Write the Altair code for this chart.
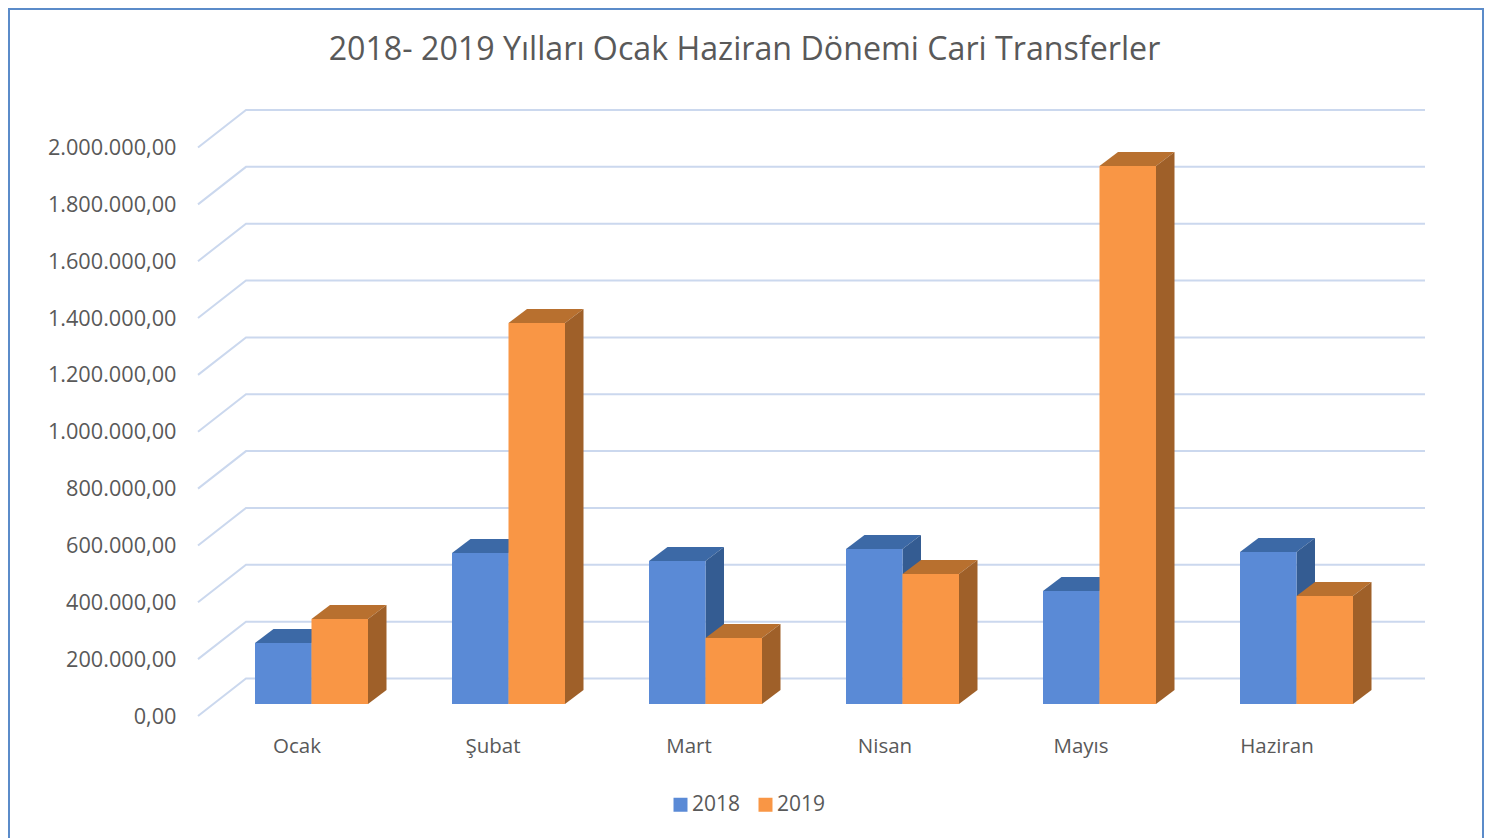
import altair as alt
import pandas as pd

months = ["Ocak", "Şubat", "Mart", "Nisan", "Mayıs", "Haziran"]
values_2018 = [214600, 531000, 503000, 545000, 397500, 535000]
values_2019 = [299000, 1340000, 232000, 457000, 1893000, 380000]
years = ["2018", "2019"]
front_colors = ["#5A8AD6", "#F99645"]
top_colors = ["#3C69A6", "#B8702F"]
side_colors = ["#345C92", "#9F6029"]
ticks = [0, 200000, 400000, 600000, 800000, 1000000, 1200000, 1400000, 1600000, 1800000, 2000000]
title_text = "2018- 2019 Yılları Ocak Haziran Dönemi Cari Transferler"

FONT = "Open Sans"
TEXT = "#595959"
GRID = "#CBD8EE"
BORDER = "#5B8BC9"

# layout of the pseudo-3D projection (screen units per data unit)
W, H = 1227, 606
PX_X = 197.0                 # pixels per category
PX_Y = 56.85 / 200000        # pixels per currency unit
bar_w = 56.5 / PX_X
depth_x, depth_y = 18.5 / PX_X, 14 / PX_Y
wall_x, wall_y = 48 / PX_X, 37.5 / PX_Y
base = 12 / PX_Y
x_min, x_max = -113.5 / PX_X, 1113.5 / PX_X
y_top = H / PX_Y
label_step = 196.0 / 197.0
x_scale = alt.Scale(domain=[x_min, x_max], nice=False, zero=False)
y_scale = alt.Scale(domain=[0, y_top], nice=False, zero=False)

AX = alt.Axis(
    values=[i * label_step for i in range(len(months))],
    labelExpr="%s[round(datum.value * 197 / 196)]" % str(months),
    grid=False, domain=False, ticks=False, labelFont=FONT, labelFontSize=20.5,
    labelColor=TEXT, labelPadding=20, labelOffset=-15, labelOverlap=False, labelFlush=False, title=None)
AY = alt.Axis(
    values=ticks,
    labelExpr="replace(format(datum.value, ',.0f'), regexp(',', 'g'), '.') + ',00'",
    grid=False, domain=False, ticks=False, labelFont=FONT, labelFontSize=21.7,
    labelColor=TEXT, labelPadding=22, labelOverlap=False, labelFlush=False, title=None)


def parts(series, vals):
    front, top, side = [], [], []
    off = series - 1
    for i, v in enumerate(vals):
        l = i + off * bar_w
        r = l + bar_w
        t = v + base
        front.append(dict(year=years[series], x=l, x2=r, y=base, y2=t))
        top += [dict(k=i, y=t, x=l, x2=r), dict(k=i, y=t + depth_y, x=l + depth_x, x2=r + depth_x)]
        side += [dict(k=i, x=r, y=base, y2=t), dict(k=i, x=r + depth_x, y=base + depth_y, y2=t + depth_y)]
    return pd.DataFrame(front), pd.DataFrame(top), pd.DataFrame(side)


X = lambda f="x": alt.X(f"{f}:Q", scale=x_scale, axis=AX)
Y = lambda f="y": alt.Y(f"{f}:Q", scale=y_scale, axis=AY)

grid_rows = []
for v in ticks:
    grid_rows += [dict(level=v, o=0, x=x_min, y=v),
                  dict(level=v, o=1, x=x_min + wall_x, y=v + wall_y),
                  dict(level=v, o=2, x=x_max, y=v + wall_y)]
grid = alt.Chart(pd.DataFrame(grid_rows)).mark_line(color=GRID, strokeWidth=2).encode(
    x=X(), y=Y(), detail="level:N", order="o:Q")

color = alt.Color("year:N", scale=alt.Scale(domain=years, range=front_colors), legend=alt.Legend(
    orient="none", legendX=472, legendY=684, direction="horizontal", title=None,
    symbolType="square", symbolSize=196, symbolStrokeWidth=0, symbolOpacity=1,
    labelFont=FONT, labelFontSize=21, labelColor=TEXT, columnPadding=14, labelOffset=1))

layers = [grid]
for s, vals in enumerate([values_2018, values_2019]):
    f, t, d = parts(s, vals)
    layers.append(alt.Chart(t).mark_area(orient="horizontal", color=top_colors[s]).encode(
        y=Y(), x=X(), x2="x2:Q", detail="k:N"))
    layers.append(alt.Chart(d).mark_area(color=side_colors[s]).encode(
        x=X(), y=Y(), y2="y2:Q", detail="k:N"))
    layers.append(alt.Chart(f).mark_rect().encode(
        x=X(), x2="x2:Q", y=Y(), y2="y2:Q", color=color))

frame_df = pd.DataFrame({"a": [0]})
def rule(**kw):
    return alt.Chart(frame_df).mark_rule(color=BORDER, strokeWidth=2).encode(
        **{k: alt.value(v) for k, v in kw.items()})
layers += [rule(x=-189, y=-102, y2=728),
           rule(x=1285, y=-102, y2=728),
           rule(x=-190, x2=1286, y=-101)]

chart = alt.layer(*layers).resolve_scale(x="shared", y="shared").properties(
    width=W, height=H,
    padding={"left": 190, "top": 102, "right": 63, "bottom": 122},
    autosize=alt.AutoSizeParams(type="none"),
    title=alt.TitleParams(title_text, font=FONT, fontSize=32.2, fontWeight="normal", color=TEXT,
                          anchor="middle", dx=-67, offset=0, dy=60),
).configure_view(stroke=None)

chart.save("out.html", embed_options={"renderer": "svg", "actions": False})
